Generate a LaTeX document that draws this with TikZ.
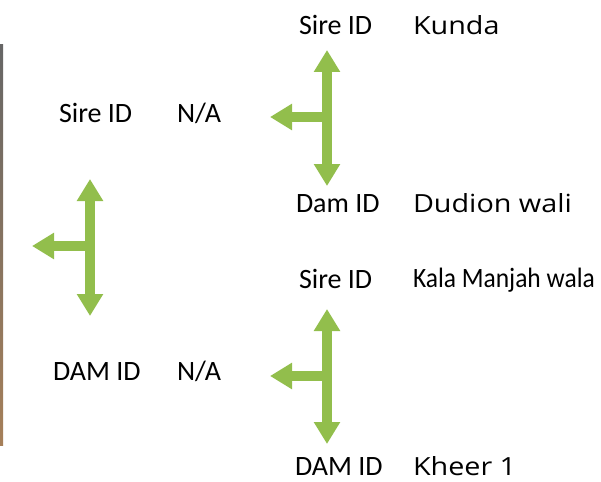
\documentclass[tikz,border=0pt]{standalone}
\usepackage{fontspec}
\setmainfont{Carlito}
\newfontfamily\namefont{Open Sans}
\usetikzlibrary{arrows.meta}
\definecolor{leafgreen}{RGB}{146,190,76}
\begin{document}
\begin{tikzpicture}[x=1pt,y=-1pt,inner sep=0pt,outer sep=0pt,
idtext/.style={anchor=base west,font=\fontsize{28}{30}\selectfont},
nametext/.style={anchor=base west,xscale=1.15,font=\namefont\fontsize{25}{28}\selectfont},
fat/.style={draw=leafgreen,line width=10pt},
>={Triangle[width=25pt,length=22pt]}]
\useasboundingbox (0,0) rectangle (601,481);
\fill[top color=black!60,bottom color=brown!60!gray] (0,45) rectangle (3,445);
% left pair
\draw (59,123) node[idtext] (sireL) {Sire ID};
\draw (177,123) node[idtext] (naSire) {N/A};
\draw (53,380) node[idtext] (damL) {DAM ID};
\draw (177,380) node[idtext] (naDam) {N/A};
% upper right pair
\draw (299,35) node[idtext] (sireA) {Sire ID};
\draw (413,35) node[nametext] (kunda) {Kunda};
\draw (296,212) node[idtext] (damA) {Dam ID};
\draw (413,212) node[nametext] (dudion) {Dudion wali};
% lower right pair
\draw (299,288) node[idtext] (sireB) {Sire ID};
\draw (413,287) node[idtext,xscale=0.91] (kala) {Kala Manjah wala};
\draw (295,475) node[idtext] (damB) {DAM ID};
\draw (413,475) node[nametext] (kheer) {Kheer 1};
% arrows
\coordinate (jL) at (90,246);
\coordinate (jA) at (327,117);
\coordinate (jB) at (327,376);
\draw[fat,<->] (90,179) coordinate (topL) -- (90,316) coordinate (botL);
\draw[fat,->] (jL) -- (32,246) coordinate (tipL);
\draw[fat,<->] (327,50) coordinate (topA) -- (327,186) coordinate (botA);
\draw[fat,->] (jA) -- (270,117) coordinate (tipA);
\draw[fat,<->] (327,309) coordinate (topB) -- (327,444) coordinate (botB);
\draw[fat,->] (jB) -- (270,376) coordinate (tipB);
\end{tikzpicture}
\end{document}
